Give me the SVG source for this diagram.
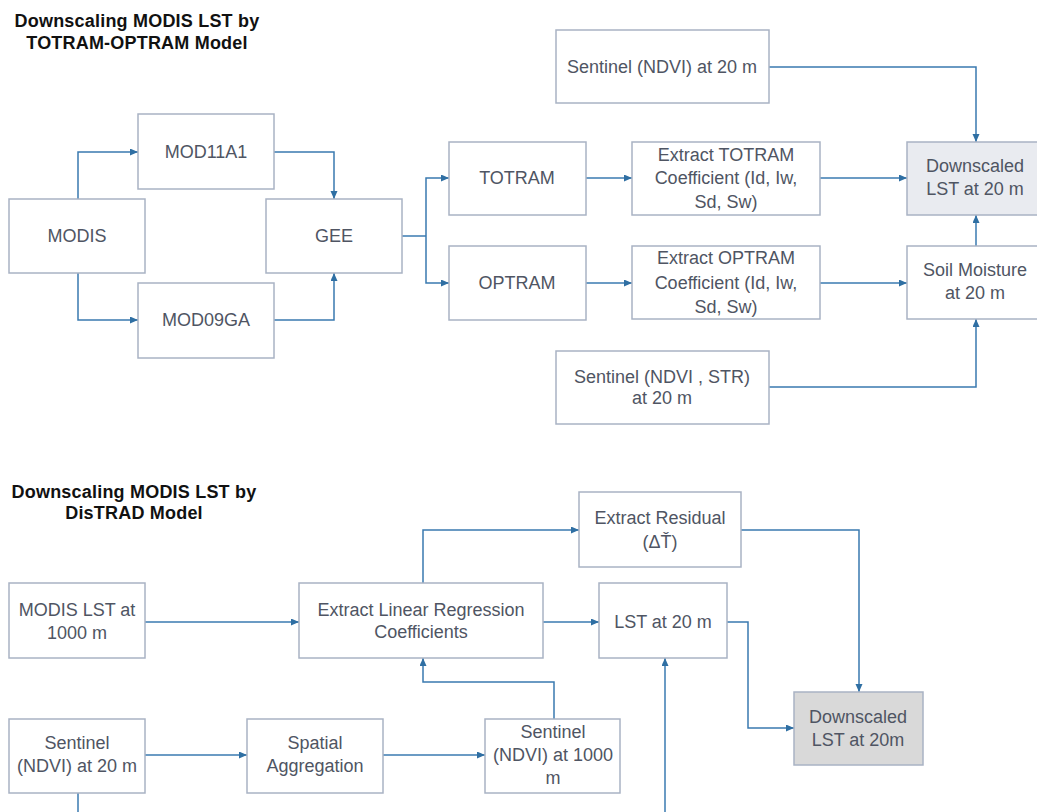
<svg xmlns="http://www.w3.org/2000/svg" width="1037" height="812" viewBox="0 0 1037 812">
<defs>
<marker id="arr" markerWidth="9" markerHeight="8" refX="8" refY="3.5" orient="auto" markerUnits="userSpaceOnUse">
<path d="M0,0 L8,3.5 L0,7 z" fill="#2f6fa3"/>
</marker>
<style>
.box{fill:#ffffff;stroke:#a9b3c4;stroke-width:1.5}
.hl{fill:#e9ebf0}
.gr{fill:#d9d9d9}
.t{font-family:"Liberation Sans",Arial,sans-serif;font-size:18px;fill:#4f5563;text-anchor:middle}
.title{font-family:"Liberation Sans",Arial,sans-serif;font-size:18px;font-weight:bold;fill:#111;text-anchor:middle;letter-spacing:0.2px}
.c{fill:none;stroke:#3a7ab0;stroke-width:1.5}
.a{marker-end:url(#arr)}
</style>
</defs>
<rect width="1037" height="812" fill="#ffffff"/>

<g id="title-top">
<text class="title" x="137" y="27">Downscaling MODIS LST by</text>
<text class="title" x="137" y="49">TOTRAM-OPTRAM Model</text>
</g>
<g id="title-bottom">
<text class="title" x="134" y="498">Downscaling MODIS LST by</text>
<text class="title" x="134" y="519">DisTRAD Model</text>
</g>

<g id="connectors">
<path class="c a" d="M78,199 V152 H138"/>
<path class="c a" d="M78,273 V320 H138"/>
<path class="c a" d="M274,152 H334 V199"/>
<path class="c a" d="M274,320 H334 V273"/>
<path class="c" d="M402,236 H426"/>
<path class="c a" d="M426,236 V178 H449"/>
<path class="c a" d="M426,236 V283 H449"/>
<path class="c a" d="M586,178 H632"/>
<path class="c a" d="M586,283 H632"/>
<path class="c a" d="M820,178 H907"/>
<path class="c a" d="M820,283 H907"/>
<path class="c a" d="M769,67 H976 V142"/>
<path class="c a" d="M976,246 V215"/>
<path class="c a" d="M769,387 H976 V319"/>

<path class="c a" d="M145,622 H299"/>
<path class="c a" d="M423,583 V530 H579"/>
<path class="c a" d="M543,622 H599"/>
<path class="c a" d="M554,719 V682 H423 V658"/>
<path class="c a" d="M145,755 H247"/>
<path class="c a" d="M383,755 H485"/>
<path class="c" d="M78,793 V812"/>
<path class="c a" d="M665,812 V658"/>
<path class="c a" d="M727,622 H748 V728 H794"/>
<path class="c a" d="M741,530 H859 V692"/>
</g>

<g id="n-modis"><rect class="box" x="9" y="199" width="136" height="74"/><text class="t" x="77" y="242">MODIS</text></g>
<g id="n-mod11a1"><rect class="box" x="138" y="114" width="136" height="75"/><text class="t" x="206" y="158">MOD11A1</text></g>
<g id="n-mod09ga"><rect class="box" x="138" y="283" width="136" height="75"/><text class="t" x="206" y="326">MOD09GA</text></g>
<g id="n-gee"><rect class="box" x="266" y="199" width="136" height="74"/><text class="t" x="334" y="242">GEE</text></g>
<g id="n-totram"><rect class="box" x="449" y="142" width="137" height="73"/><text class="t" x="517" y="184">TOTRAM</text></g>
<g id="n-optram"><rect class="box" x="449" y="246" width="137" height="74"/><text class="t" x="517" y="289">OPTRAM</text></g>
<g id="n-ext-totram"><rect class="box" x="632" y="142" width="188" height="73"/>
<text class="t" x="726" y="161">Extract TOTRAM</text><text class="t" x="726" y="184">Coefficient (Id, Iw,</text><text class="t" x="726" y="208">Sd, Sw)</text></g>
<g id="n-ext-optram"><rect class="box" x="632" y="246" width="188" height="73"/>
<text class="t" x="726" y="264">Extract OPTRAM</text><text class="t" x="726" y="289">Coefficient (Id, Iw,</text><text class="t" x="726" y="313">Sd, Sw)</text></g>
<g id="n-sentinel-ndvi"><rect class="box" x="556" y="30" width="213" height="73"/><text class="t" x="662" y="73">Sentinel (NDVI) at 20 m</text></g>
<g id="n-downscaled-top"><rect class="box hl" x="907" y="142" width="136" height="73"/>
<text class="t" x="975" y="172">Downscaled</text><text class="t" x="975" y="195">LST at 20 m</text></g>
<g id="n-soil"><rect class="box" x="907" y="246" width="136" height="73"/>
<text class="t" x="975" y="276">Soil Moisture</text><text class="t" x="975" y="299">at 20 m</text></g>
<g id="n-sentinel-str"><rect class="box" x="556" y="351" width="213" height="73"/>
<text class="t" x="662" y="383">Sentinel (NDVI , STR)</text><text class="t" x="662" y="404">at 20 m</text></g>

<g id="n-modis-lst"><rect class="box" x="9" y="583" width="136" height="75"/>
<text class="t" x="77" y="616">MODIS LST at</text><text class="t" x="77" y="639">1000 m</text></g>
<g id="n-ext-linear"><rect class="box" x="299" y="583" width="244" height="75"/>
<text class="t" x="421" y="616">Extract Linear Regression</text><text class="t" x="421" y="638">Coefficients</text></g>
<g id="n-ext-residual"><rect class="box" x="579" y="492" width="162" height="75"/>
<text class="t" x="660" y="524">Extract Residual</text><text class="t" x="660" y="548">(ΔŤ)</text></g>
<g id="n-lst20"><rect class="box" x="599" y="583" width="128" height="75"/><text class="t" x="663" y="628">LST at 20 m</text></g>
<g id="n-downscaled-bottom"><rect class="box gr" x="794" y="692" width="129" height="73"/>
<text class="t" x="858" y="723">Downscaled</text><text class="t" x="858" y="746">LST at 20m</text></g>
<g id="n-sentinel20"><rect class="box" x="9" y="719" width="136" height="74"/>
<text class="t" x="77" y="749">Sentinel</text><text class="t" x="77" y="772">(NDVI) at 20 m</text></g>
<g id="n-spatial"><rect class="box" x="247" y="719" width="136" height="74"/>
<text class="t" x="315" y="749">Spatial</text><text class="t" x="315" y="772">Aggregation</text></g>
<g id="n-sentinel1000"><rect class="box" x="485" y="719" width="135" height="74"/>
<text class="t" x="553" y="738">Sentinel</text><text class="t" x="553" y="761">(NDVI) at 1000</text><text class="t" x="553" y="784">m</text></g>
</svg>
